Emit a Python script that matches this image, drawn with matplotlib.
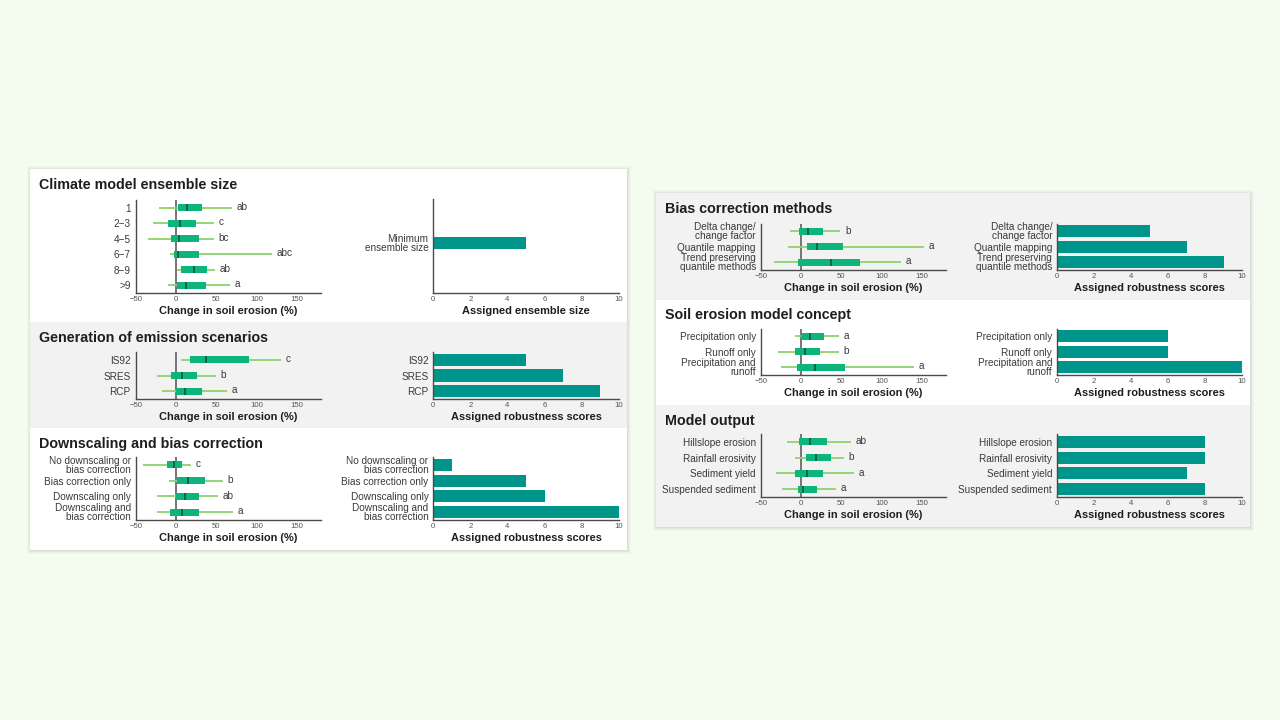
import matplotlib
matplotlib.use("Agg")
import matplotlib.pyplot as plt
from matplotlib.patches import Rectangle

plt.rcParams['font.family'] = ['Liberation Sans', 'DejaVu Sans']

W, H = 1280, 720

# whisker low, q1, median, q3, whisker high for each row
ensemble_labels = ["1", "2\u22123", "4\u22125", "6\u22127", "8\u22129", ">9"]
ensemble_low = [-21.5, -29, -35, -7, 1, -10]
ensemble_q1 = [3, -10, -5.5, -2.5, 6, 1]
ensemble_med = [14, 4.5, 4, 2, 23, 13]
ensemble_q3 = [32, 25, 28.5, 28.5, 39, 37]
ensemble_high = [70, 47, 47, 120, 49, 67]
ensemble_sig = ["ab", "c", "bc", "abc", "ab", "a"]
ensemble_score_labels = ["Minimum\nensemble size"]
ensemble_scores = [5]

emission_labels = ["IS92", "SRES", "RCP"]
emission_low = [6, -23, -17]
emission_q1 = [18, -6, 0]
emission_med = [38, 7, 11]
emission_q3 = [91, 26, 33]
emission_high = [131, 50, 63]
emission_sig = ["c", "b", "a"]
emission_scores = [5, 7, 9]

downscaling_labels = ["No downscaling or\nbias correction", "Bias correction only",
                      "Downscaling only", "Downscaling and\nbias correction"]
downscaling_low = [-41, -9, -24, -23]
downscaling_q1 = [-11, 1, 0, -7]
downscaling_med = [-2, 14.5, 11, 7]
downscaling_q3 = [8, 36, 29, 29]
downscaling_high = [19, 58, 52, 71]
downscaling_sig = ["c", "b", "ab", "a"]
downscaling_scores = [1, 5, 6, 10]

bias_labels = ["Delta change/\nchange factor", "Quantile mapping",
               "Trend preserving\nquantile methods"]
bias_low = [-14, -16, -34]
bias_q1 = [-2.5, 7, -4]
bias_med = [9, 20, 37]
bias_q3 = [28, 52, 74]
bias_high = [49, 153, 124]
bias_sig = ["b", "a", "a"]
bias_scores = [5, 7, 9]

concept_labels = ["Precipitation only", "Runoff only", "Precipitation and\nrunoff"]
concept_low = [-7, -28, -25]
concept_q1 = [0, -7, -5]
concept_med = [11, 5.5, 17]
concept_q3 = [29, 24, 55]
concept_high = [47, 47, 141]
concept_sig = ["a", "b", "a"]
concept_scores = [6, 6, 10]

output_labels = ["Hillslope erosion", "Rainfall erosivity", "Sediment yield",
                 "Suspended sediment"]
output_low = [-17, -7, -31, -24]
output_q1 = [-2, 6, -7, -4]
output_med = [11, 19, 8, 2.5]
output_q3 = [32, 38, 28, 20]
output_high = [62, 53, 66, 44]
output_sig = ["ab", "b", "a", "a"]
output_scores = [8, 8, 7, 8]

BACK = "#F4FCEF"
GREY = "#F2F2F2"
WHISKER = "#8FD26B"
BOX = "#0DB57C"
MEDIAN = "#17483A"
BAR = "#00958A"
AXIS = "#4A4A4A"
TEXT = "#3A3A3A"
TITLE = "#1E1E1E"
SHADOW = ["#EFF6EA", "#E9F0E4", "#E2E8DD", "#D9DED4"]


def rect(fig, x0, y0, x1, y1, color):
    # zorder below the axes, figure patches go on top otherwise
    fig.add_artist(Rectangle((x0 / W, 1 - y1 / H), (x1 - x0) / W, (y1 - y0) / H,
                             transform=fig.transFigure, facecolor=color,
                             edgecolor="none", zorder=-1))


def shadow(fig, x0, y0, x1, y1):
    for i, c in enumerate(SHADOW):
        grow = len(SHADOW) - i
        rect(fig, x0 - grow + 1, y0 - grow + 1, x1 + grow, y1 + grow, c)


def make_axes(fig, x0, y0, x1, y1):
    ax = fig.add_axes([x0 / W, 1 - y1 / H, (x1 - x0) / W, (y1 - y0) / H])
    ax.patch.set_alpha(0)
    ax.spines[["top", "right"]].set_visible(False)
    ax.spines[["left", "bottom"]].set_color(AXIS)
    ax.spines[["left", "bottom"]].set_linewidth(1.0)
    ax.tick_params(axis="y", length=0, pad=3.5, labelsize=7.2, labelcolor=TEXT)
    ax.tick_params(axis="x", length=0, pad=2.3, labelsize=5.6, labelcolor="#555555")
    return ax


def style_rows(ax, pos, labels, nrows):
    ax.set_ylim(nrows - 0.5, -0.5)
    ax.set_yticks(pos)
    ax.set_yticklabels(labels, linespacing=0.87)


def box_panel(fig, x0, y0, x1, y1, labels, low, q1, med, q3, high, sig):
    ax = make_axes(fig, x0, y0, x1, y1)
    pos = list(range(len(labels)))
    ax.axvline(0, color="#6A6A6A", lw=1.3, zorder=1)
    ax.hlines(pos, low, high, color=WHISKER, lw=1.3, zorder=2)
    ax.barh(pos, [b - a for a, b in zip(q1, q3)], left=q1, height=0.45, color=BOX, zorder=3)
    ax.vlines(med, [p - 0.225 for p in pos], [p + 0.225 for p in pos], color=MEDIAN, lw=1.1, zorder=4)
    for p, h, s in zip(pos, high, sig):
        ax.annotate(s, (h, p), xytext=(3.3, 0.6), textcoords="offset points",
                    ha="left", va="center", fontsize=7.2, color=TEXT)
    ax.set_xlim(-50, 180)
    ax.set_xticks([-50, 0, 50, 100, 150])
    style_rows(ax, pos, labels, len(labels))
    ax.set_xlabel("Change in soil erosion (%)", fontsize=7.95, fontweight="bold",
                  color=TITLE, labelpad=2.0)
    return ax


def score_panel(fig, x0, y0, x1, y1, labels, scores, xlabel, pos=None, nrows=None):
    ax = make_axes(fig, x0, y0, x1, y1)
    if pos is None:
        pos = list(range(len(labels)))
        nrows = len(labels)
    ax.barh(pos, scores, height=0.77, color=BAR, zorder=2)
    ax.set_xlim(0, 10)
    ax.set_xticks([0, 2, 4, 6, 8, 10])
    style_rows(ax, pos, labels, nrows)
    ax.set_xlabel(xlabel, fontsize=7.95, fontweight="bold", color=TITLE, labelpad=2.0)
    return ax


fig = plt.figure(figsize=(W / 100, H / 100), dpi=100, facecolor=BACK)

# cards with a soft edge
shadow(fig, 30, 169, 627, 550)
shadow(fig, 656, 193, 1250, 527)
rect(fig, 30, 169, 627, 550, "white")
rect(fig, 30, 322, 627, 428, GREY)
rect(fig, 656, 193, 1250, 300, GREY)
rect(fig, 656, 300, 1250, 405, "white")
rect(fig, 656, 405, 1250, 527, GREY)

titles = [("Climate model ensemble size", 39, 185),
          ("Generation of emission scenarios", 39, 338),
          ("Downscaling and bias correction", 39, 444),
          ("Bias correction methods", 665, 209),
          ("Soil erosion model concept", 665, 315),
          ("Model output", 665, 421)]
for t, tx, ty in titles:
    fig.text(tx / W, 1 - ty / H, t, fontsize=10.3, fontweight="bold", color=TITLE,
             ha="left", va="center")

RB = "Assigned robustness scores"

box_panel(fig, 135.7, 200, 320.7, 293, ensemble_labels, ensemble_low, ensemble_q1,
          ensemble_med, ensemble_q3, ensemble_high, ensemble_sig)
score_panel(fig, 433.3, 199, 618.7, 293, ensemble_score_labels, ensemble_scores,
            "Assigned ensemble size", pos=[2.32], nrows=6)

box_panel(fig, 135.7, 352, 320.7, 399, emission_labels, emission_low, emission_q1,
          emission_med, emission_q3, emission_high, emission_sig)
score_panel(fig, 433.3, 352, 618.7, 399, emission_labels, emission_scores, RB)

box_panel(fig, 135.7, 457, 320.7, 520, downscaling_labels, downscaling_low, downscaling_q1,
          downscaling_med, downscaling_q3, downscaling_high, downscaling_sig)
score_panel(fig, 433.3, 457, 618.7, 520, downscaling_labels, downscaling_scores, RB)

box_panel(fig, 760.7, 223.7, 945.7, 270, bias_labels, bias_low, bias_q1,
          bias_med, bias_q3, bias_high, bias_sig)
score_panel(fig, 1057, 223.7, 1242, 270, bias_labels, bias_scores, RB)

box_panel(fig, 760.7, 328.7, 945.7, 375, concept_labels, concept_low, concept_q1,
          concept_med, concept_q3, concept_high, concept_sig)
score_panel(fig, 1057, 328.7, 1242, 375, concept_labels, concept_scores, RB)

box_panel(fig, 760.7, 434, 945.7, 497, output_labels, output_low, output_q1,
          output_med, output_q3, output_high, output_sig)
score_panel(fig, 1057, 434, 1242, 497, output_labels, output_scores, RB)

fig.savefig("out.png", dpi=100, facecolor=BACK)
